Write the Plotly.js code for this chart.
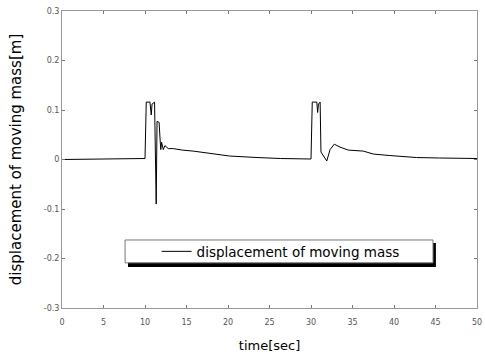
<!DOCTYPE html>
<html>
<head>
<meta charset="utf-8">
<script src="https://cdn.plot.ly/plotly-3.0.1.min.js"></script>
<style>
  html, body { margin: 0; padding: 0; background: #fff; }
  #chart { width: 485px; height: 355px; }
</style>
</head>
<body>
<div id="chart"></div>
<script>
// Displacement of the moving mass over time [s]
const timeSec = [
  0, 10.0, 10.15, 10.6, 10.75, 10.85, 11.15, 11.25, 11.35, 11.45, 11.7, 11.8,
  11.9, 12.0, 12.2, 12.4, 12.8, 13.4, 14.5, 15.8, 17.5, 20.2, 23.5, 26.3, 30.0,
  30.15, 30.7, 30.8, 30.9, 31.1, 31.2, 31.9, 32.3, 32.8, 33.5, 34.5, 36.3, 37.5,
  39.5, 42.7, 45.5, 50.0
];
const displacement = [
  0, 0.002, 0.116, 0.116, 0.09, 0.112, 0.116, 0.0, -0.09, 0.077, 0.075, 0.045,
  0.02, 0.035, 0.02, 0.028, 0.022, 0.022, 0.019, 0.017, 0.013, 0.007, 0.004, 0.002, 0.001,
  0.116, 0.116, 0.095, 0.112, 0.116, 0.015, -0.003, 0.02, 0.031, 0.025, 0.019, 0.017, 0.011,
  0.008, 0.004, 0.003, 0.002
];

const xTicks = [0, 5, 10, 15, 20, 25, 30, 35, 40, 45, 50];
const yTicks = [-0.3, -0.2, -0.1, 0, 0.1, 0.2, 0.3];
const yTickText = ['-0.3', '-0.2', '-0.1', '0', '0.1', '0.2', '0.3'];

const seriesName = 'displacement of moving mass';

const baseFont = 'DejaVu Sans, sans-serif';
const tickFont = { family: baseFont, size: 8, color: '#555' };

const trace = {
  x: timeSec,
  y: displacement,
  type: 'scatter',
  mode: 'lines',
  name: seriesName,
  line: { color: '#000', width: 1 }
};

const layout = {
  width: 485,
  height: 355,
  margin: { l: 62, r: 8, t: 11, b: 47 },
  paper_bgcolor: '#fff',
  plot_bgcolor: '#fff',
  showlegend: true,
  legend: {
    x: 0.228, y: 0.19, xanchor: 'left', yanchor: 'middle',
    bgcolor: 'rgba(0,0,0,0)', borderwidth: 0,
    font: { family: baseFont, size: 13.5, color: '#000' }
  },
  xaxis: {
    range: [0, 50],
    tickvals: xTicks,
    ticktext: xTicks.map(String),
    ticks: 'inside', ticklen: 3, tickcolor: '#777',
    ticklabelstandoff: 6,
    showline: true, linecolor: '#999', linewidth: 1, mirror: 'ticks',
    showgrid: false, zeroline: false,
    tickfont: tickFont,
    title: { text: 'time[sec]', font: { family: baseFont, size: 13, color: '#000' }, standoff: 15 }
  },
  yaxis: {
    range: [-0.3, 0.3],
    tickvals: yTicks,
    ticktext: yTickText,
    ticks: 'inside', ticklen: 3, tickcolor: '#777',
    showline: true, linecolor: '#999', linewidth: 1, mirror: 'ticks',
    showgrid: false, zeroline: false,
    tickfont: tickFont,
    title: { text: 'displacement of moving mass[m]', font: { family: baseFont, size: 15, color: '#000' }, standoff: 18 }
  },
  shapes: [
    // drop shadow of the legend box
    {
      type: 'rect', xref: 'paper', yref: 'paper', layer: 'above',
      x0: 0.159, x1: 0.901, y0: 0.138, y1: 0.219,
      fillcolor: '#000', line: { width: 0 }
    },
    // legend box frame
    {
      type: 'rect', xref: 'paper', yref: 'paper', layer: 'above',
      x0: 0.152, x1: 0.894, y0: 0.152, y1: 0.229,
      fillcolor: '#fff', line: { color: '#777', width: 1 }
    }
  ]
};

Plotly.newPlot('chart', [trace], layout, { displayModeBar: false, staticPlot: true });
</script>
</body>
</html>
